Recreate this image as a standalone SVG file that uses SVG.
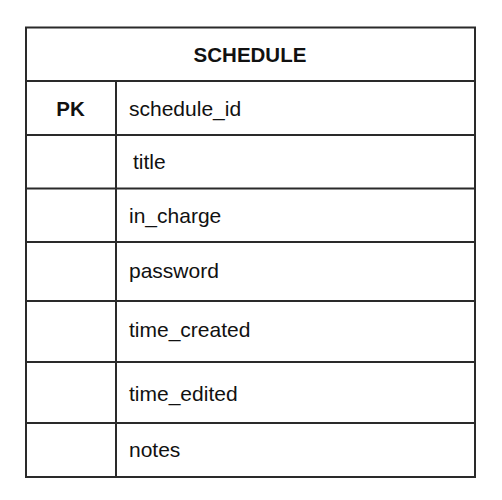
<svg xmlns="http://www.w3.org/2000/svg" width="502" height="500" viewBox="0 0 502 500">
  <style>
    .ln { stroke: #2a2a2a; stroke-width: 2; fill: none; }
    .box { fill: #ffffff; stroke: #2a2a2a; stroke-width: 2; }
    .t { font-family: "Liberation Sans", Arial, sans-serif; font-size: 21px; fill: #111; }
    .b { font-family: "Liberation Sans", Arial, sans-serif; font-size: 20.5px; font-weight: bold; fill: #111; text-anchor: middle; }
  </style>
  <rect width="502" height="500" fill="#ffffff"/>
  <g id="schedule">
    <rect class="box" x="26" y="27.5" width="449" height="449.5"/>
    <g id="schedule-lines">
      <line class="ln" x1="26" y1="81" x2="475" y2="81"/>
      <line class="ln" x1="26" y1="135" x2="475" y2="135"/>
      <line class="ln" x1="26" y1="188.5" x2="475" y2="188.5"/>
      <line class="ln" x1="26" y1="242" x2="475" y2="242"/>
      <line class="ln" x1="26" y1="301" x2="475" y2="301"/>
      <line class="ln" x1="26" y1="362" x2="475" y2="362"/>
      <line class="ln" x1="26" y1="423" x2="475" y2="423"/>
      <line class="ln" x1="116" y1="81" x2="116" y2="477"/>
    </g>
    <text class="b" x="250" y="61.5">SCHEDULE</text>
    <g id="row-schedule_id">
      <text class="b" x="70.5" y="115.5">PK</text>
      <text class="t" x="129" y="115.5">schedule_id</text>
    </g>
    <g id="row-title"><text class="t" x="133" y="169">title</text></g>
    <g id="row-in_charge"><text class="t" x="129" y="223">in_charge</text></g>
    <g id="row-password"><text class="t" x="129" y="278">password</text></g>
    <g id="row-time_created"><text class="t" x="129" y="336.5">time_created</text></g>
    <g id="row-time_edited"><text class="t" x="129" y="400.5">time_edited</text></g>
    <g id="row-notes"><text class="t" x="129" y="457">notes</text></g>
  </g>
  <g id="connectors"/>
</svg>
